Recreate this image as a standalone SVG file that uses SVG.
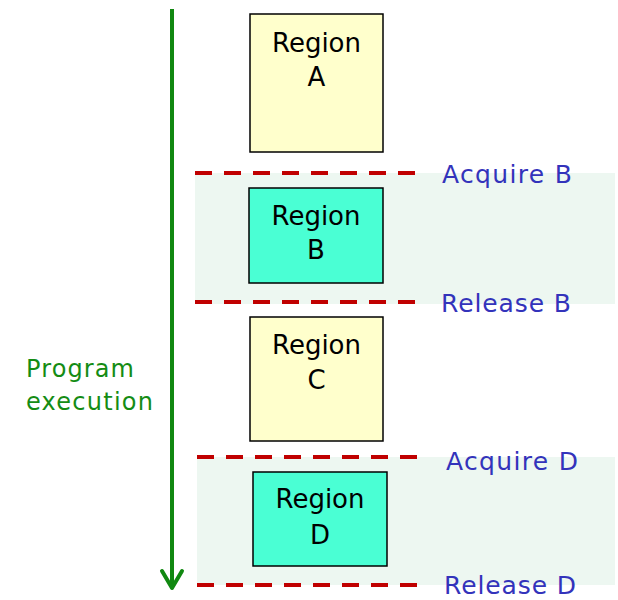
<svg xmlns="http://www.w3.org/2000/svg" width="618" height="600" viewBox="0 0 618 600">
  <defs>
    <style>
      .band { fill: #edf7f1; }
      .lock { stroke: #c00000; stroke-width: 4; stroke-dasharray: 17 12; fill: none; }
      .plain { fill: #ffffcc; stroke: #000; stroke-width: 1.5; }
      .crit { fill: #4affd4; stroke: #000; stroke-width: 1.5; }
      .lbl { font-family: "DejaVu Sans", "Open Sans", sans-serif; font-size: 26px; fill: #000; text-anchor: middle; }
      .op { font-family: "DejaVu Sans", "Open Sans", sans-serif; font-size: 25px; fill: #3333bb; }
      .flow { font-family: "DejaVu Sans", "Open Sans", sans-serif; font-size: 24px; fill: #148c14; }
    </style>
  </defs>

  <!-- shaded critical sections -->
  <rect class="band" x="195" y="173" width="420" height="131"/>
  <rect class="band" x="197" y="457" width="418" height="128"/>

  <!-- connectors: time axis and lock boundaries -->
  <g id="connectors">
    <line x1="172" y1="9" x2="172" y2="588" stroke="#118811" stroke-width="4"/>
    <polyline points="162,571 172,588 182,571" fill="none" stroke="#118811" stroke-width="4" stroke-linecap="round" stroke-linejoin="round"/>
    <line class="lock" x1="195" y1="173" x2="415" y2="173"/>
    <line class="lock" x1="195" y1="302" x2="415" y2="302"/>
    <line class="lock" x1="197" y1="457" x2="418" y2="457"/>
    <line class="lock" x1="197" y1="585" x2="418" y2="585"/>
  </g>

  <g id="regionA">
    <rect class="plain" x="250" y="14" width="133" height="138"/>
    <text class="lbl" x="316.5" y="52">Region</text>
    <text class="lbl" x="316.5" y="86">A</text>
  </g>

  <g id="regionB">
    <rect class="crit" x="249" y="188" width="134" height="95"/>
    <text class="lbl" x="316" y="225">Region</text>
    <text class="lbl" x="316" y="259">B</text>
  </g>

  <g id="regionC">
    <rect class="plain" x="250" y="317" width="133" height="124"/>
    <text class="lbl" x="316.5" y="354">Region</text>
    <text class="lbl" x="316.5" y="389">C</text>
  </g>

  <g id="regionD">
    <rect class="crit" x="253" y="472" width="134" height="94"/>
    <text class="lbl" x="320" y="508">Region</text>
    <text class="lbl" x="320" y="544">D</text>
  </g>

  <g id="labels">
    <text class="op" x="442" y="183" textLength="130">Acquire B</text>
    <text class="op" x="441" y="312" textLength="130">Release B</text>
    <text class="op" x="446" y="470" textLength="132">Acquire D</text>
    <text class="op" x="444" y="594" textLength="132">Release D</text>
    <text class="flow" x="26" y="377" textLength="108">Program</text>
    <text class="flow" x="26" y="410" textLength="127">execution</text>
  </g>
</svg>
